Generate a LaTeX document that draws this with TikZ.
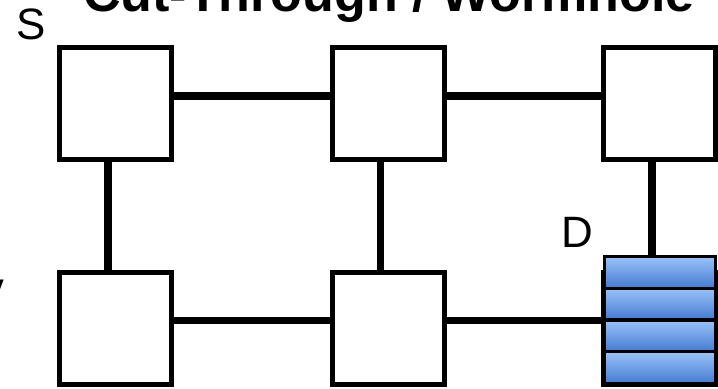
\documentclass[tikz,border=0pt]{standalone}
\usepackage{fontspec}
\setmainfont{Liberation Sans}
\usetikzlibrary{positioning, calc}
\definecolor{qtop}{RGB}{155,195,250}
\definecolor{qbot}{RGB}{68,122,208}

\begin{document}
\begin{tikzpicture}[
    router/.style={draw=black, fill=white, line width=0.1cm, minimum size=2.24cm, inner sep=0pt},
    link/.style={line width=0.15cm},
    slot/.style={draw=black, line width=0.06cm, top color=qtop, bottom color=qbot,
                 minimum width=2.22cm, minimum height=0.635cm, inner sep=0pt},
    lbl/.style={font=\fontsize{25}{30}\selectfont, inner sep=0pt}]
\useasboundingbox (0,0) rectangle (14.36,7.76);

%% title (runs off the top)
\node[font=\fontsize{29.6}{34}\selectfont\bfseries, anchor=base, inner sep=0pt]
  (title) at (7.78,7.52) {Cut-Through / Wormhole};
\node[font=\fontsize{29.6}{34}\selectfont\bfseries, anchor=base east, inner sep=0pt]
  (cut) at (0.1,1.62) {y};

%% 2x3 mesh of routers
\foreach \c/\x in {1/2.31,2/7.76,3/13.19}{
  \node[router] (t\c) at (\x,5.69) {};
  \node[router] (b\c) at (\x,1.2) {};
}

%% links (a little off the centres)
\draw[link] ([yshift=0.15cm]t1.east) -- ([yshift=0.15cm]t2.west);
\draw[link] ([yshift=0.15cm]t2.east) -- ([yshift=0.15cm]t3.west);
\draw[link] ([yshift=0.15cm]b1.east) -- ([yshift=0.15cm]b2.west);
\draw[link] ([xshift=-0.15cm]t1.south) -- ([xshift=-0.15cm]b1.north);
\draw[link] ([xshift=-0.15cm]t2.south) -- ([xshift=-0.15cm]b2.north);

%% destination buffer (flits queued)
\foreach \i/\y in {1/2.312,2/1.678,3/1.042,4/0.408}{
  \node[slot] (q\i) at (13.2,\y) {};
}
\coordinate (tdn) at ([xshift=-0.15cm]t3.south);
\coordinate (bout) at ([yshift=0.15cm]b2.east);
\draw[link] (tdn) -- (tdn |- q1.north);
\draw[link] (bout) -- (bout -| q1.west);

%% labels
\node[lbl] (src) at (0.63,7.28) {S};
\node[lbl] (dst) at (11.55,3.12) {D};
\end{tikzpicture}
\end{document}
